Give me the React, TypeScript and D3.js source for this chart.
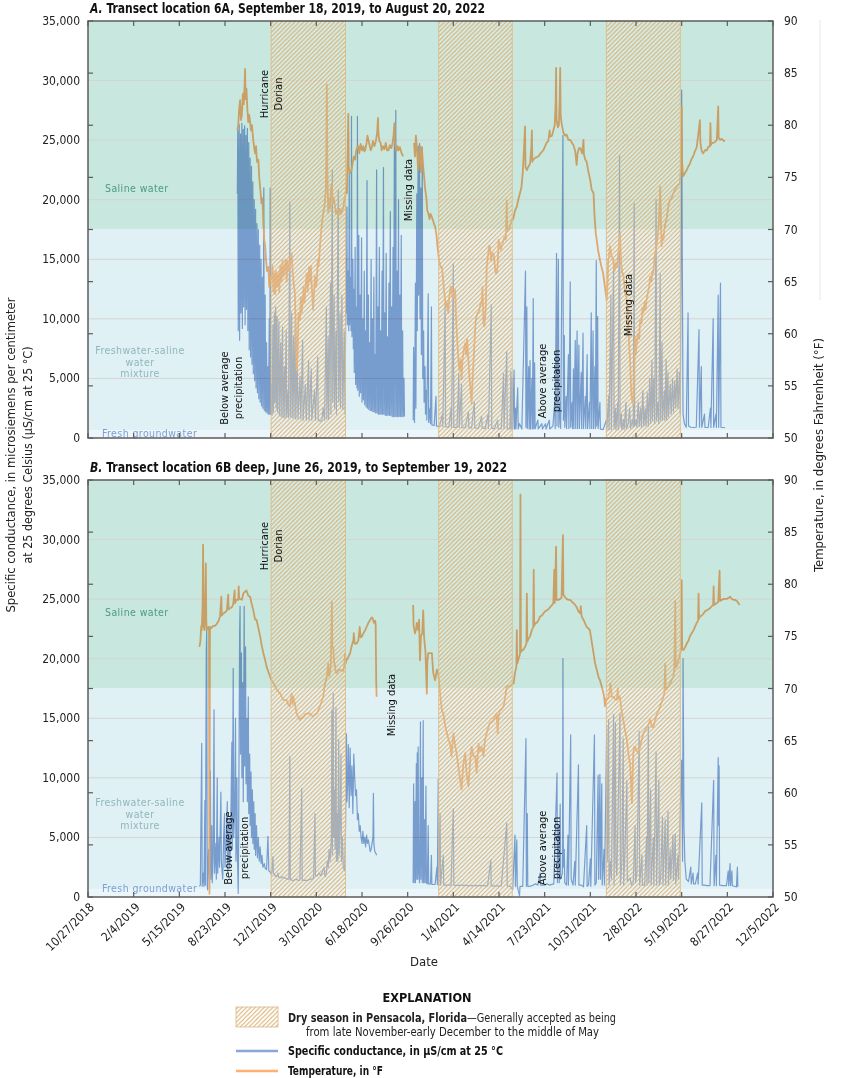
import React from "react";
import * as d3 from "d3";

// ---------- DATA ----------
const START_LABEL = "10/27/2018";
const X_TICK_LABELS = [
  "10/27/2018", "2/4/2019", "5/15/2019", "8/23/2019", "12/1/2019", "3/10/2020",
  "6/18/2020", "9/26/2020", "1/4/2021", "4/14/2021", "7/23/2021", "10/31/2021",
  "2/8/2022", "5/19/2022", "8/27/2022", "12/5/2022",
];
const COND_TICKS = [0, 5000, 10000, 15000, 20000, 25000, 30000, 35000];
const TEMP_TICKS = [50, 55, 60, 65, 70, 75, 80, 85, 90];
const DRY_SEASONS = [
  ["2019-12-02", "2020-05-13"],
  ["2020-12-03", "2021-05-13"],
  ["2021-12-05", "2022-05-16"],
];
const SALINE_MIN = 17500;
const FRESH_MAX = 650;

// series: [days since 10/27/2018, value]; null = missing data
const condA = [
  [327,20500],[328,25800],[329,9000],[331,26300],[332,8200],[334,25500],[335,10500],[337,26400],[338,9200],[340,25900],[341,11000],[343,26200],[344,9500],[346,25400],[347,10800],[349,26000],[350,9000],[352,24800],[353,7400],[355,23500],[356,6800],[358,22800],[359,6200],[361,21500],[362,5400],[364,20000],[365,4800],[367,19200],[368,4200],[370,18000],[371,3800],[373,17500],[374,3300],[376,16200],[377,3000],[379,15000],[380,2700],[382,13500],[383,2500],[385,21000],[386,2300],[388,12000],[389,2200],[391,8000],[392,2100],[394,6000],[395,2000],[397,10000],[398,2000],[399,21000],[400,2000],[401,4500],
  [403,1900],[405,9500],[406,2200],[408,10500],[409,3000],[411,11000],[412,2500],[414,10200],[415,2200],[418,9800],[419,1900],[422,8000],[423,1800],[426,9300],[427,1700],[430,6000],[431,1700],[434,9000],[435,1800],[438,4000],[439,1700],[442,19800],[443,1800],[446,10500],[447,1700],[450,8500],[451,1700],[454,9800],[455,1600],[458,6500],[460,1600],[464,5200],[466,1600],[470,8200],[471,1500],[476,4500],[478,1500],[483,6500],[484,1500],[489,5800],[490,1500],[496,4000],[498,1500],[503,6800],[504,1500],[509,1400],[512,1500],[515,2500],[518,1500],[522,11000],[523,1600],[526,8500],[527,1600],[531,13000],[532,2000],[535,22500],[536,3000],[539,12000],[540,2500],[543,9000],[544,2000],[548,20800],[549,3000],[552,10500],[553,2500],[556,12000],[558,2400],[561,9000],[563,2000],
  [564,9000],[565,15000],[566,10500],[567,19400],[568,9500],[570,14000],[571,9000],[572,22300],[573,9500],[575,13500],[576,9000],[577,27000],[578,8500],[580,15000],[581,7500],[582,12500],[583,5500],[585,16000],[586,4500],[588,11000],[589,4200],[590,27000],[591,4000],[593,17000],[594,3500],[596,12000],[597,3800],[599,16800],[600,3000],[602,10000],[603,3200],[605,14000],[606,2800],[608,9000],[609,2600],[611,21600],[612,2500],[614,12000],[615,2400],[617,8000],[618,2300],[620,15000],[621,2300],[623,10000],[624,2200],[626,13500],[627,2200],[629,7000],[630,2100],[632,22500],[633,2100],[635,11000],[636,2000],[638,16000],[639,2000],[641,9000],[642,2000],[644,14000],[645,2000],[647,22700],[648,2000],[650,10500],[651,1900],[653,15500],[654,1900],[656,8500],[657,1900],[659,13000],[660,1900],[662,19000],[663,1900],[665,11000],[666,1800],[668,16000],[669,1800],[671,26100],[672,1800],[674,27500],[675,1800],[677,14000],[678,1800],[680,20000],[681,1800],[683,12000],[684,1800],[686,17000],[687,1800],[689,9000],[690,1800],[692,5000],[693,1800],
  [700,null],
  [712,1500],[713,7600],[715,1300],[717,13000],[718,2500],[720,20500],[721,9000],[723,24500],[724,12000],[726,24700],[727,10000],[729,21000],[730,7000],[732,24400],[733,5000],[735,9000],[736,3000],[738,6000],[739,2000],[741,4000],[742,1500],[745,12100],[746,1300],[749,2500],[750,1200],[752,11000],[753,1100],[758,1050],[762,3500],[763,1000],[770,1000],[776,2000],[777,950],[782,11300],[783,950],[790,900],[795,2500],[796,900],[800,14650],[801,900],[808,900],[812,5400],[813,880],[818,4500],[819,870],[826,860],[833,2200],[834,850],[840,850],[846,3000],[847,840],[855,830],[862,1800],[863,820],[870,810],[876,2000],[877,800],[883,11200],[884,800],[890,790],[897,1500],[898,780],[905,780],[910,5400],[911,770],[917,7240],[918,760],[924,760],[926,5600],[927,760],[929,5000],[930,760],[933,5700],[934,760],[936,2500],[937,760],[941,4200],[942,760],[945,1200],[950,760],[958,14000],[959,900],[961,11000],[962,800],[965,6000],[966,760],[968,6500],[969,760],[972,5000],[973,760],[975,11700],[976,800],[978,6300],[979,760],[985,1500],[986,760],[994,1200],[995,760],[1002,1200],[1003,760],[1010,1500],[1011,760],[1018,1000],[1022,3000],[1023,800],[1026,15500],[1027,1000],[1030,15000],[1031,900],[1034,3000],[1035,800],[1040,25400],[1041,1500],[1043,8600],[1044,900],[1047,3500],[1048,800],[1052,7000],[1053,800],[1056,13100],[1057,900],[1060,3000],[1061,800],[1063,5800],[1064,800],[1067,8200],[1068,800],[1071,9000],[1072,800],[1075,7800],[1076,800],[1080,5500],[1081,800],[1084,8800],[1085,800],[1089,3500],[1090,800],[1093,7000],[1094,800],[1098,3000],[1099,800],[1102,10500],[1103,800],[1106,9000],[1107,800],[1110,6000],[1111,800],[1113,14900],[1114,1000],[1116,10200],[1117,800],[1121,3000],[1122,750],[1128,700],[1135,1500],[1136,700],[1140,3500],[1141,700],[1145,12000],[1146,700],[1151,14700],[1152,800],[1155,2500],[1156,700],[1160,3000],[1161,700],[1164,23700],[1165,1000],[1168,2000],[1169,700],[1173,1500],[1174,700],[1178,3000],[1179,800],[1183,1200],[1186,2500],[1188,800],[1192,1500],[1194,900],[1196,19700],[1197,1000],[1200,1500],[1202,900],[1205,3000],[1207,1000],[1210,2500],[1212,900],[1215,4000],[1217,1000],[1220,2500],[1222,1000],[1225,3800],[1227,1000],[1230,5000],[1232,1200],[1235,6500],[1236,1500],[1239,5000],[1241,1200],[1244,20000],[1245,1500],[1248,3000],[1250,1200],[1253,13800],[1254,1500],[1257,8000],[1258,1500],[1262,4000],[1263,1500],[1266,6600],[1267,1500],[1270,5500],[1271,1800],[1275,4500],[1277,2000],[1280,5000],[1282,2200],[1285,4800],[1287,2500],[1290,5800],[1292,2500],[1295,5500],[1297,2000],[1299,17000],[1300,29200],[1301,18000],[1302,10000],[1303,2000],[1306,1200],[1310,900],[1314,10500],[1315,1000],[1320,900],[1326,880],[1332,900],[1338,9100],[1339,900],[1343,6000],[1344,900],[1350,2000],[1351,880],[1358,880],[1363,2500],[1364,880],[1369,10000],[1370,900],[1375,2000],[1376,880],[1380,12000],[1381,900],[1385,13000],[1386,900],[1390,880],[1395,880],
];

const tempA = [
  [327,79.5],[329,80.0],[331,81.5],[333,82.4],[335,80.5],[337,81.0],[339,83.0],[341,82.0],[343,84.0],[344,85.4],[345,82.5],[347,83.5],[349,81.5],[351,80.3],[353,81.0],[355,80.3],[357,79.5],[359,80.0],[362,78.5],[364,77.8],[366,77.3],[368,78.0],[370,76.5],[373,76.7],[375,75.0],[377,74.0],[380,72.5],[382,73.0],[384,70.5],[386,69.0],[388,68.4],[390,67.0],[392,66.0],[395,66.4],[397,64.5],[399,65.5],[402,65.2],[404,66.5],[406,64.0],[408,65.8],[410,63.8],[412,66.0],[414,64.5],[417,65.8],[419,64.0],[421,66.5],[424,65.0],[426,67.0],[428,65.5],[431,66.4],[433,67.1],[435,65.0],[437,67.0],[440,66.0],[443,67.0],[446,67.7],[448,66.0],[450,65.0],[453,63.9],[455,60.5],[457,56.5],[459,58.0],[461,62.0],[464,61.3],[466,63.5],[468,62.0],[470,63.0],[472,64.5],[474,63.0],[477,64.8],[479,65.8],[481,64.0],[484,66.4],[486,65.0],[488,66.5],[490,64.5],[493,62.3],[495,64.0],[497,65.5],[499,64.5],[501,65.0],[503,67.0],[505,66.5],[508,68.4],[510,69.5],[512,70.5],[515,71.6],[517,72.0],[519,72.8],[521,74.0],[522,78.0],[523,83.9],[524,76.0],[526,71.6],[528,73.0],[530,72.0],[532,74.0],[534,74.4],[536,72.5],[538,73.0],[541,72.2],[543,71.5],[546,71.8],[548,71.2],[551,72.0],[554,71.5],[557,71.9],[559,72.0],[561,72.8],[563,73.0],[565,74.0],[567,73.5],[568,76.0],[570,81.1],[571,76.0],[573,75.4],[575,75.5],[577,75.7],[580,76.5],[582,77.0],[585,76.7],[587,77.5],[590,77.9],[592,78.0],[594,77.3],[597,78.2],[600,77.6],[603,78.0],[605,77.5],[607,77.6],[610,78.3],[612,79.0],[614,78.6],[617,78.0],[619,77.6],[621,77.8],[624,78.5],[627,78.0],[630,78.4],[633,79.2],[635,80.7],[636,79.2],[638,78.5],[641,78.3],[643,77.6],[646,78.0],[649,77.7],[652,78.3],[655,77.6],[658,77.6],[661,78.1],[664,77.8],[667,78.3],[669,79.0],[671,80.2],[672,78.5],[675,77.5],[678,78.0],[680,77.6],[683,77.9],[686,77.4],[689,77.1],[691,77.1],
  [700,null],
  [714,78.3],[716,77.0],[718,79.0],[720,78.0],[723,75.7],[725,77.0],[727,78.0],[729,75.5],[731,77.9],[734,76.0],[736,75.1],[738,74.0],[741,73.0],[743,71.8],[745,71.6],[748,71.0],[750,71.5],[753,71.2],[756,70.8],[758,70.5],[760,70.3],[763,69.5],[765,68.5],[767,67.7],[769,67.0],[772,66.4],[775,66.4],[777,65.5],[780,64.0],[782,63.2],[784,62.5],[786,63.0],[789,62.0],[791,63.5],[794,64.5],[796,64.5],[798,63.5],[800,64.0],[802,63.5],[804,64.2],[806,61.5],[809,59.0],[811,57.5],[813,56.5],[816,57.5],[818,55.6],[820,57.5],[823,58.5],[826,59.1],[828,58.0],[830,59.5],[833,57.5],[835,56.0],[838,54.5],[840,53.3],[842,55.5],[845,58.0],[848,60.7],[850,61.5],[853,62.0],[855,62.0],[858,62.5],[860,63.0],[862,62.9],[864,64.5],[866,61.0],[868,60.7],[871,62.5],[873,66.4],[876,67.5],[878,68.4],[880,68.4],[883,67.0],[885,67.7],[888,67.7],[891,66.5],[893,65.8],[895,65.8],[897,66.5],[899,69.0],[902,68.5],[904,68.0],[906,68.4],[909,68.8],[912,69.3],[915,69.0],[917,72.8],[918,69.8],[921,70.0],[924,70.3],[927,70.8],[931,71.0],[935,71.8],[939,72.2],[943,73.0],[946,73.5],[949,74.0],[952,75.4],[955,78.0],[957,79.9],[958,76.0],[961,75.7],[964,76.0],[968,76.3],[971,78.0],[972,79.5],[973,76.5],[975,76.7],[980,76.9],[986,77.0],[991,77.3],[997,77.6],[1001,78.0],[1004,78.3],[1008,78.5],[1011,79.5],[1012,78.9],[1016,79.0],[1019,79.5],[1022,80.0],[1024,82.0],[1025,85.5],[1026,80.5],[1029,79.8],[1031,80.0],[1033,82.5],[1034,85.5],[1035,81.0],[1037,80.2],[1041,79.3],[1045,79.0],[1048,79.1],[1052,78.6],[1056,78.6],[1060,78.3],[1063,78.1],[1067,77.5],[1070,76.2],[1072,77.3],[1075,77.8],[1078,77.8],[1082,77.3],[1085,78.6],[1086,77.2],[1089,76.7],[1092,76.5],[1096,75.5],[1100,74.7],[1103,73.8],[1107,73.5],[1109,71.5],[1110,70.8],[1112,69.6],[1114,69.0],[1117,68.0],[1121,67.1],[1124,66.5],[1128,65.8],[1132,64.5],[1136,63.2],[1138,65.0],[1139,67.1],[1141,67.5],[1143,68.4],[1146,67.5],[1150,67.1],[1153,66.0],[1156,66.8],[1158,66.4],[1162,68.0],[1165,69.6],[1167,67.0],[1170,65.8],[1172,65.8],[1176,64.0],[1180,63.2],[1183,61.0],[1185,59.0],[1187,57.5],[1189,55.0],[1190,54.0],[1192,53.5],[1194,53.3],[1196,56.0],[1198,59.7],[1200,58.0],[1201,58.8],[1204,60.0],[1207,59.5],[1209,61.3],[1212,61.0],[1214,62.5],[1216,62.0],[1219,63.0],[1221,62.3],[1223,63.2],[1226,64.0],[1229,64.5],[1231,65.5],[1234,65.0],[1236,66.0],[1238,65.8],[1241,67.5],[1243,68.0],[1245,68.4],[1248,69.5],[1250,70.5],[1252,72.8],[1253,74.1],[1255,70.0],[1256,68.4],[1258,69.5],[1260,69.0],[1262,70.0],[1264,70.5],[1267,71.0],[1270,72.0],[1272,72.5],[1274,72.8],[1278,73.0],[1282,73.5],[1285,73.8],[1289,74.1],[1293,74.3],[1296,74.4],[1298,75.5],[1300,81.8],[1301,76.5],[1303,75.1],[1307,75.4],[1311,75.7],[1314,76.0],[1318,76.3],[1321,76.7],[1325,77.0],[1329,77.5],[1333,77.9],[1336,79.0],[1340,80.5],[1341,78.3],[1344,77.5],[1347,77.3],[1351,77.6],[1355,77.6],[1358,77.9],[1362,78.0],[1363,80.2],[1364,78.1],[1366,78.3],[1369,78.3],[1373,78.4],[1377,78.6],[1380,81.8],[1381,78.8],[1384,78.6],[1388,78.7],[1392,78.5],[1395,78.5],
];

const condB = [
  [244,900],[246,1000],[249,12900],[250,900],[252,2000],[254,900],[256,8100],[257,1000],[259,20700],[260,22400],[261,1000],[262,600],[264,4000],[266,1500],[268,10600],[269,1500],[271,6000],[272,1200],[274,3500],[276,15700],[277,2000],[280,4500],[281,1500],[283,10000],[284,2000],[287,5000],[288,2500],[291,8800],[292,3000],[295,1500],[297,5000],[299,7000],[300,2500],[303,5000],[305,8000],[306,2000],[309,6500],[310,2500],[312,4000],[315,13000],[316,4000],[318,19200],[319,5000],[321,7000],[323,15000],[324,3000],[326,10000],[327,4000],[329,300],[330,6000],[332,22000],[333,24400],[334,12000],[336,20500],[337,10000],[339,18000],[340,8000],[342,24400],[343,11000],[345,21000],[346,9500],[348,15000],[349,8000],[351,16800],[352,7000],[354,12000],[355,6000],[357,10500],[358,5000],[360,9000],[361,4500],[363,8000],[364,4000],[366,7000],[367,3500],[369,6000],[371,3300],[373,5000],[375,3000],[377,4200],[379,2800],[381,3500],[383,2500],[386,2800],[388,2400],[391,2300],[394,5100],[396,2200],[399,2100],[402,1900],[405,3400],[406,2000],[410,1800],[413,1700],[416,2000],[417,1700],[421,1600],[425,1700],[428,1600],[432,1600],[436,1500],[440,1500],[442,11800],[443,1500],[447,1400],[451,1400],[455,1500],[460,1400],[464,1400],[468,9100],[469,1400],[473,1400],[478,1400],[482,1400],[486,1500],[490,1500],[494,1600],[497,7000],[498,1800],[502,1800],[506,2000],[510,1800],[514,2200],[517,2500],[519,1700],[522,2000],[524,3000],[526,2500],[528,4000],[530,3000],[533,5000],[534,15700],[535,3500],[537,17100],[538,5000],[540,9000],[541,4000],[543,15900],[544,3000],[546,7000],[547,3000],[549,13200],[550,3500],[552,6000],[554,12000],[555,3000],[557,5000],[559,2500],[562,2200],[564,6000],[566,13700],[567,8000],[569,10000],[570,12800],[572,7500],[574,12500],[576,8500],[578,11000],[580,7000],[582,12000],[584,10000],[586,8500],[588,9000],[590,6500],[592,7000],[594,5500],[596,6000],[598,5000],[600,4500],[602,5500],[604,4500],[606,5000],[608,4200],[610,5200],[612,4500],[614,4800],[616,4300],[618,3800],[620,4000],[622,4500],[624,5000],[625,8700],[626,4500],[628,3800],[630,3700],[632,3500],
  [670,null],
  [712,1200],[713,9500],[714,1200],[716,8000],[717,1200],[719,11200],[720,1500],[721,12100],[722,1500],[723,12600],[724,2500],[726,1200],[728,14700],[729,1500],[731,10000],[732,1200],[734,14800],[735,1200],[737,6500],[738,1200],[740,9300],[741,1200],[743,1100],[745,6000],[746,1100],[750,1100],[752,3500],[753,1050],[760,1050],[764,2500],[765,1050],[767,9900],[768,1000],[771,7000],[772,1000],[778,3500],[779,1000],[785,1000],[790,1000],[795,1000],[800,7400],[801,1000],[806,980],[815,980],[825,970],[835,960],[845,960],[855,950],[865,950],[875,940],[882,3100],[883,940],[895,930],[905,930],[917,6200],[918,920],[925,900],[930,600],[935,5200],[936,900],[939,4800],[940,900],[945,100],[946,900],[952,900],[959,13300],[960,900],[962,7000],[963,900],[968,900],[975,1000],[980,1100],[985,1000],[990,2000],[991,1000],[1000,1000],[1005,1100],[1010,1000],[1020,1100],[1027,10400],[1028,1200],[1031,6000],[1032,1200],[1034,7800],[1035,1500],[1039,2000],[1040,20000],[1041,2500],[1043,4000],[1044,1200],[1048,1000],[1051,5200],[1052,1000],[1057,13600],[1058,1500],[1062,1000],[1066,3000],[1067,1000],[1074,11100],[1075,1000],[1080,1000],[1085,850],[1092,6000],[1093,900],[1096,1000],[1100,3200],[1101,900],[1109,13600],[1110,1000],[1113,1200],[1117,10200],[1118,1500],[1121,10300],[1122,1500],[1125,9500],[1126,1000],[1130,4000],[1131,1000],[1136,14300],[1137,3000],[1139,7000],[1140,14900],[1141,1000],[1144,3000],[1146,1500],[1151,15300],[1152,1000],[1155,14600],[1156,3000],[1158,1800],[1165,15400],[1166,1000],[1169,3000],[1172,13300],[1173,1000],[1176,4000],[1180,9800],[1181,1300],[1187,1600],[1190,1000],[1194,1200],[1198,6000],[1199,1200],[1202,2000],[1207,13900],[1208,1000],[1213,3500],[1214,1000],[1219,1000],[1223,5000],[1224,1000],[1227,14300],[1228,1200],[1232,9000],[1233,1000],[1238,5000],[1239,1000],[1244,12200],[1245,1000],[1250,9800],[1251,1000],[1254,1500],[1258,6700],[1259,1000],[1264,6500],[1265,1000],[1270,7200],[1271,1000],[1275,4000],[1276,1500],[1281,5200],[1282,1400],[1286,5300],[1287,1100],[1292,3500],[1293,1500],[1300,11500],[1302,3000],[1303,20000],[1304,14000],[1305,6000],[1307,3000],[1310,1500],[1315,1300],[1320,2500],[1321,1100],[1325,2000],[1326,1100],[1330,1100],[1335,2000],[1336,1100],[1344,7900],[1345,1000],[1350,1000],[1355,950],[1362,950],[1370,9800],[1371,950],[1375,3500],[1376,950],[1380,11700],[1381,6000],[1382,11000],[1383,1000],[1390,950],[1398,950],[1402,2200],[1403,950],[1406,2800],[1407,950],[1410,2200],[1411,950],[1415,900],[1420,850],[1422,2500],[1423,850],
];

const tempB = [
  [244,74.0],[246,74.5],[248,76.0],[249,75.6],[251,78.0],[252,83.8],[253,76.0],[255,75.6],[256,77.0],[258,82.0],[259,76.5],[260,75.6],[262,75.8],[264,75.9],[265,75.8],[266,50.3],[267,75.9],[270,75.8],[274,76.0],[278,76.0],[282,76.2],[286,76.5],[289,76.9],[292,78.8],[293,77.0],[296,77.2],[300,77.3],[304,77.5],[307,79.0],[308,77.6],[311,77.7],[315,77.8],[318,78.1],[321,79.4],[322,78.2],[325,78.5],[329,78.5],[330,79.8],[331,78.6],[334,78.6],[337,78.5],[340,79.1],[344,79.3],[347,79.4],[351,78.9],[355,78.8],[358,78.2],[362,77.5],[366,76.6],[369,76.6],[373,75.8],[377,75.0],[380,74.2],[384,73.4],[388,72.7],[391,72.1],[395,71.6],[399,71.1],[402,70.8],[406,70.5],[410,70.2],[413,69.9],[417,69.7],[421,69.5],[424,69.2],[428,68.9],[431,68.9],[435,68.9],[438,68.5],[442,68.3],[446,69.5],[448,68.5],[450,69.2],[453,68.5],[457,67.6],[460,67.3],[464,67.0],[468,67.2],[472,67.3],[475,67.5],[479,67.6],[482,67.6],[486,67.6],[490,67.4],[493,67.3],[497,67.5],[501,67.6],[505,68.0],[508,68.3],[512,68.8],[515,69.2],[519,70.5],[523,71.1],[526,72.4],[528,71.2],[530,71.5],[532,72.5],[534,78.3],[535,74.0],[537,74.0],[539,72.5],[541,72.1],[543,71.5],[545,71.5],[549,71.8],[552,71.8],[556,71.7],[559,71.7],[561,72.1],[563,73.4],[564,72.4],[566,72.7],[570,73.0],[574,73.4],[577,74.0],[581,74.6],[582,75.3],[584,74.3],[588,74.3],[592,74.6],[595,75.9],[597,74.9],[600,75.0],[603,75.3],[607,75.6],[610,75.9],[614,76.3],[618,76.6],[621,76.8],[623,76.8],[626,76.3],[629,76.5],[630,76.0],[631,71.0],[632,69.2],
  [670,null],
  [712,78.0],[713,76.0],[716,75.3],[718,75.6],[720,76.3],[723,75.6],[725,76.6],[727,72.7],[729,75.0],[732,75.3],[734,77.5],[736,74.9],[739,73.5],[742,69.5],[743,72.5],[745,73.4],[749,73.4],[753,73.4],[756,71.5],[760,70.8],[764,71.8],[767,71.5],[771,69.5],[775,67.9],[778,67.6],[782,66.5],[786,65.7],[790,65.0],[793,64.7],[796,63.5],[800,65.7],[804,64.5],[807,63.8],[811,62.5],[815,61.2],[818,60.3],[822,62.8],[826,63.8],[829,61.9],[833,60.6],[837,63.1],[840,64.4],[844,63.5],[848,63.5],[851,61.9],[855,64.7],[858,64.0],[862,64.4],[866,63.5],[869,65.0],[873,65.7],[877,66.3],[880,66.7],[884,66.8],[888,67.0],[891,67.3],[895,67.6],[897,65.7],[899,67.3],[902,67.9],[906,68.0],[910,68.3],[913,69.0],[917,70.2],[921,70.2],[924,70.2],[928,70.4],[932,70.5],[935,71.5],[938,72.1],[939,75.6],[940,72.4],[942,72.7],[946,73.3],[947,88.6],[948,73.5],[951,73.7],[953,73.7],[957,74.0],[960,74.3],[961,79.1],[962,74.5],[965,74.8],[968,75.0],[972,75.6],[975,75.9],[976,81.4],[977,76.0],[980,76.3],[983,76.3],[987,76.6],[990,76.9],[994,77.0],[997,77.2],[1001,77.4],[1005,77.5],[1008,77.6],[1012,77.8],[1016,78.0],[1019,78.2],[1021,81.4],[1022,78.2],[1025,83.6],[1026,78.5],[1030,78.5],[1034,78.6],[1037,78.7],[1040,84.7],[1041,79.0],[1044,78.8],[1048,78.6],[1052,78.5],[1056,78.5],[1060,78.3],[1063,78.2],[1067,78.0],[1070,77.8],[1074,77.4],[1078,77.2],[1079,77.9],[1081,76.9],[1085,76.6],[1088,76.3],[1092,75.9],[1095,75.8],[1099,75.6],[1103,74.5],[1107,73.4],[1110,72.5],[1114,71.8],[1118,71.1],[1121,70.8],[1125,70.2],[1129,69.5],[1131,68.9],[1132,68.3],[1134,69.0],[1136,68.9],[1140,69.2],[1143,69.9],[1144,70.5],[1147,69.2],[1151,69.2],[1154,69.0],[1158,68.9],[1160,70.0],[1161,69.0],[1165,69.2],[1168,68.0],[1172,67.0],[1176,66.0],[1180,65.1],[1184,63.5],[1187,62.8],[1189,61.0],[1191,59.0],[1192,60.5],[1194,63.8],[1196,64.4],[1198,64.4],[1202,64.0],[1205,63.8],[1209,64.4],[1212,65.0],[1216,65.7],[1220,66.0],[1224,66.3],[1227,66.5],[1231,67.0],[1235,66.3],[1238,66.3],[1242,67.0],[1246,67.6],[1250,67.9],[1253,68.3],[1257,68.8],[1260,69.2],[1262,69.5],[1264,72.4],[1265,69.9],[1267,69.9],[1271,70.2],[1275,70.5],[1278,70.8],[1282,71.1],[1284,72.0],[1286,78.4],[1287,72.0],[1289,72.1],[1293,72.7],[1297,73.4],[1299,74.0],[1300,80.4],[1301,73.8],[1304,73.7],[1308,74.0],[1311,74.3],[1315,74.6],[1318,75.0],[1322,75.3],[1326,75.6],[1330,76.0],[1333,76.3],[1336,76.5],[1337,79.1],[1338,76.7],[1340,76.9],[1344,77.0],[1348,77.2],[1351,77.4],[1355,77.5],[1359,77.6],[1362,77.7],[1366,77.9],[1369,78.0],[1370,79.8],[1371,78.0],[1374,78.1],[1377,78.2],[1380,78.3],[1383,81.3],[1384,78.4],[1388,78.5],[1392,78.6],[1396,78.6],[1399,78.6],[1403,78.7],[1406,78.8],[1410,78.6],[1413,78.5],[1417,78.5],[1421,78.4],[1424,78.2],[1427,78.0],
];

// ---------- LAYOUT / STYLE ----------
const W = 844;
const H = 1078;
const X0 = 88;
const X1 = 773;
const FONT = "'Liberation Sans Narrow', 'Arial Narrow', 'DejaVu Sans Condensed', 'Roboto Condensed', 'Liberation Sans', sans-serif";
const BLUE = "#88a6d8";
const ORANGE = "#ffb174";
const C_SALINE = "#c8e7df";
const C_MIX = "#e0f1f5";
const C_FRESH = "#ecf6fa";
const HATCH = "#d7aa66";

const parseTick = d3.utcParse("%m/%d/%Y");
const parseISO = d3.utcParse("%Y-%m-%d");
const START = parseTick(START_LABEL) as Date;
const dayToDate = (d: number) => d3.utcDay.offset(START, d);

const xScale = d3
  .scaleUtc()
  .domain([parseTick(X_TICK_LABELS[0]) as Date, parseTick(X_TICK_LABELS[X_TICK_LABELS.length - 1]) as Date])
  .range([X0, X1]);

type Ann = { lines: string[]; x: number[]; y: number };

function Panel(props: {
  top: number;
  bottom: number;
  title: string;
  titleWidth: number;
  cond: any[];
  temp: any[];
  anns: Ann[];
  salineY: number;
  mixY: number[];
  freshY: number;
  xLabels: boolean;
}) {
  const { top, bottom } = props;
  const yC = d3.scaleLinear().domain([0, 35000]).range([bottom, top]);
  const yT = d3.scaleLinear().domain([50, 90]).range([bottom, top]);
  const lineC = d3
    .line<any>()
    .defined((d) => d[1] != null)
    .x((d) => xScale(dayToDate(d[0])))
    .y((d) => yC(d[1]));
  const lineT = d3
    .line<any>()
    .defined((d) => d[1] != null)
    .x((d) => xScale(dayToDate(d[0])))
    .y((d) => yT(d[1]));
  const tickDates = X_TICK_LABELS.map((s) => parseTick(s) as Date);
  const clipId = `clip${top}`;
  return (
    <g>
      <defs>
        <clipPath id={clipId}>
          <rect x={X0} y={top} width={X1 - X0} height={bottom - top} />
        </clipPath>
      </defs>
      <text x={90} y={top - 8} fontFamily={FONT} fontWeight="bold" fontSize={14} fill="#111"
        textLength={props.titleWidth} lengthAdjust="spacingAndGlyphs">
        <tspan fontStyle="italic">{props.title.slice(0, 2)}</tspan>
        {props.title.slice(2)}
      </text>
      {/* background bands */}
      <rect x={X0} y={yC(35000)} width={X1 - X0} height={yC(SALINE_MIN) - yC(35000)} fill={C_SALINE} />
      <rect x={X0} y={yC(SALINE_MIN)} width={X1 - X0} height={yC(FRESH_MAX) - yC(SALINE_MIN)} fill={C_MIX} />
      <rect x={X0} y={yC(FRESH_MAX)} width={X1 - X0} height={yC(0) - yC(FRESH_MAX)} fill={C_FRESH} />
      {/* gridlines */}
      {COND_TICKS.filter((v) => v > 0 && v < 35000).map((v) => (
        <line key={v} x1={X0} x2={X1} y1={yC(v)} y2={yC(v)} stroke="#d4d4d4" strokeWidth={1} />
      ))}
      {/* band labels */}
      <text x={105} y={props.salineY} fontFamily={FONT} fontSize={10.5} fill="#4e9a86" dominantBaseline="central"
        letterSpacing={0.4}>Saline water</text>
      {["Freshwater-saline", "water", "mixture"].map((t, i) => (
        <text key={t} x={140} y={props.mixY[i]} fontFamily={FONT} fontSize={10.5} fill="#8fb6bb"
          textAnchor="middle" dominantBaseline="central" letterSpacing={0.4}>{t}</text>
      ))}
      <text x={102} y={props.freshY} fontFamily={FONT} fontSize={10.5} fill="#7d9fd2" dominantBaseline="central"
        letterSpacing={0.4}>Fresh groundwater</text>
      {/* data */}
      <g clipPath={`url(#${clipId})`} style={{ mixBlendMode: "multiply" }}>
        <path d={lineC(props.cond) || ""} fill="none" stroke={BLUE} strokeWidth={1.2} strokeLinejoin="round" />
        <path d={lineT(props.temp) || ""} fill="none" stroke={ORANGE} strokeWidth={1.8} strokeLinejoin="round" />
      </g>
      {/* dry seasons */}
      {DRY_SEASONS.map(([a, b]) => {
        const xa = xScale(parseISO(a) as Date);
        const xb = xScale(parseISO(b) as Date);
        return (
          <g key={a}>
            <rect x={xa} y={top} width={xb - xa} height={bottom - top} fill="#ffffff" fillOpacity={0.22} />
            <rect x={xa} y={top} width={xb - xa} height={bottom - top} fill="url(#hatch)" stroke="#e0bb86" strokeWidth={0.9} />
          </g>
        );
      })}
      {/* annotations */}
      {props.anns.map((a, i) =>
        a.lines.map((t, j) => (
          <text key={`${i}-${j}`} transform={`translate(${a.x[j]},${a.y}) rotate(-90)`} fontFamily={FONT}
            fontSize={11} fill="#111" textAnchor="middle" dominantBaseline="central">{t}</text>
        ))
      )}
      {/* frame */}
      <rect x={X0} y={top} width={X1 - X0} height={bottom - top} fill="none" stroke="#5c5c5c" strokeWidth={1.5} />
      {/* x ticks top & bottom */}
      {tickDates.map((d, i) => (
        <g key={i}>
          <line x1={xScale(d)} x2={xScale(d)} y1={top} y2={top + 5} stroke="#5c5c5c" strokeWidth={1.2} />
          <line x1={xScale(d)} x2={xScale(d)} y1={bottom} y2={bottom - 5} stroke="#5c5c5c" strokeWidth={1.2} />
        </g>
      ))}
      {/* temperature ticks on both sides */}
      {TEMP_TICKS.map((v) => (
        <g key={v}>
          <line x1={X0} x2={X0 + 5} y1={yT(v)} y2={yT(v)} stroke="#5c5c5c" strokeWidth={1.2} />
          <line x1={X1} x2={X1 - 5} y1={yT(v)} y2={yT(v)} stroke="#5c5c5c" strokeWidth={1.2} />
          <text x={784} y={yT(v)} fontFamily={FONT} fontSize={12} fill="#222" dominantBaseline="central">{v}</text>
        </g>
      ))}
      {/* conductance labels */}
      {COND_TICKS.map((v) => (
        <text key={v} x={80} y={yC(v)} fontFamily={FONT} fontSize={12} fill="#222" textAnchor="end"
          dominantBaseline="central">{d3.format(",")(v)}</text>
      ))}
      {props.xLabels &&
        tickDates.map((d, i) => (
          <text key={i} transform={`translate(${xScale(d) + 4},${bottom + 8}) rotate(-45)`} fontFamily={FONT}
            fontSize={12} fill="#222" textAnchor="end" dominantBaseline="central">{X_TICK_LABELS[i]}</text>
        ))}
    </g>
  );
}

export default function App() {
  const annA: Ann[] = [
    { lines: ["Hurricane", "Dorian"], x: [264, 278], y: 94 },
    { lines: ["Below average", "precipitation"], x: [224, 238], y: 388 },
    { lines: ["Missing data"], x: [408], y: 190 },
    { lines: ["Above average", "precipitation"], x: [542, 556], y: 381 },
    { lines: ["Missing data"], x: [628], y: 305 },
  ];
  const annB: Ann[] = [
    { lines: ["Hurricane", "Dorian"], x: [264, 278], y: 546 },
    { lines: ["Missing data"], x: [391], y: 705 },
    { lines: ["Below average", "precipitation"], x: [228, 244], y: 848 },
    { lines: ["Above average", "precipitation"], x: [542, 556], y: 848 },
  ];
  return (
    <svg width={W} height={H} viewBox={`0 0 ${W} ${H}`}
      style={{ position: "absolute", left: 0, top: 0, display: "block", background: "#fff" }}>
      <defs>
        <pattern id="hatch" patternUnits="userSpaceOnUse" width={4.4} height={4.4}>
          <path d="M-1,1 l2,-2 M0,4.4 l4.4,-4.4 M3.4,5.4 l2,-2" stroke={HATCH} strokeWidth={1} />
        </pattern>
      </defs>
      <rect x={0} y={0} width={W} height={H} fill="#fff" />
      <line x1={820} x2={820} y1={20} y2={300} stroke="#e8e8e8" strokeWidth={1} />
      <Panel top={21} bottom={438} title="A. Transect location 6A, September 18, 2019, to August 20, 2022"
        titleWidth={395} cond={condA} temp={tempA} anns={annA} salineY={188} mixY={[350, 362, 373]} freshY={433}
        xLabels={false} />
      <Panel top={480} bottom={897} title="B. Transect location 6B deep, June 26, 2019, to September 19, 2022"
        titleWidth={417} cond={condB} temp={tempB} anns={annB} salineY={612} mixY={[802, 814, 825]} freshY={888}
        xLabels={true} />
      {/* axis titles */}
      <text transform="translate(10,455) rotate(-90)" fontFamily={FONT} fontSize={12.5} fill="#222"
        textAnchor="middle" dominantBaseline="central" textLength={315} lengthAdjust="spacingAndGlyphs">
        Specific conductance, in microsiemens per centimeter
      </text>
      <text transform="translate(27,455) rotate(-90)" fontFamily={FONT} fontSize={12.5} fill="#222"
        textAnchor="middle" dominantBaseline="central" textLength={217} lengthAdjust="spacingAndGlyphs">
        at 25 degrees Celsius (µS/cm at 25 °C)
      </text>
      <text transform="translate(818,455) rotate(-90)" fontFamily={FONT} fontSize={12.5} fill="#222"
        textAnchor="middle" dominantBaseline="central" textLength={234} lengthAdjust="spacingAndGlyphs">
        Temperature, in degrees Fahrenheit (°F)
      </text>
      <text x={424} y={961} fontFamily={FONT} fontSize={13} fill="#222" textAnchor="middle"
        dominantBaseline="central">Date</text>
      {/* legend */}
      <text x={427} y={997} fontFamily={FONT} fontSize={12.5} fontWeight="bold" fill="#111" textAnchor="middle"
        dominantBaseline="central" textLength={89} lengthAdjust="spacingAndGlyphs">EXPLANATION</text>
      <rect x={236} y={1007} width={42} height={20} fill="#fff" />
      <rect x={236} y={1007} width={42} height={20} fill="url(#hatch)" stroke="#d8b98a" strokeWidth={0.8} />
      <text x={288} y={1018} fontFamily={FONT} fontSize={11.5} fill="#222" dominantBaseline="central"
        textLength={328} lengthAdjust="spacingAndGlyphs">
        <tspan fontWeight="bold">Dry season in Pensacola, Florida</tspan>
        <tspan>—Generally accepted as being</tspan>
      </text>
      <text x={306} y={1032} fontFamily={FONT} fontSize={11.5} fill="#222" dominantBaseline="central"
        textLength={293} lengthAdjust="spacingAndGlyphs">
        from late November-early December to the middle of May
      </text>
      <line x1={236} x2={278} y1={1051} y2={1051} stroke={BLUE} strokeWidth={2.5} />
      <text x={288} y={1051} fontFamily={FONT} fontSize={11.5} fontWeight="bold" fill="#111"
        dominantBaseline="central" textLength={215} lengthAdjust="spacingAndGlyphs">
        Specific conductance, in µS/cm at 25 °C
      </text>
      <line x1={236} x2={278} y1={1071} y2={1071} stroke={ORANGE} strokeWidth={2.5} />
      <text x={288} y={1071} fontFamily={FONT} fontSize={11.5} fontWeight="bold" fill="#111"
        dominantBaseline="central" textLength={95} lengthAdjust="spacingAndGlyphs">
        Temperature, in °F
      </text>
    </svg>
  );
}
